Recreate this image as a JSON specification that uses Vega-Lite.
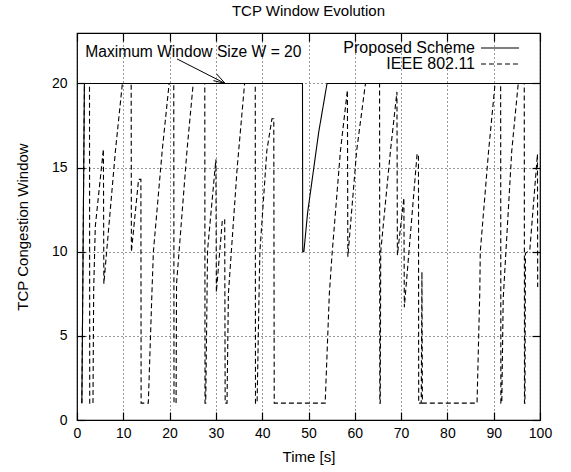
{
  "$schema": "https://vega.github.io/schema/vega-lite/v6.json",
  "width": 463,
  "height": 387,
  "autosize": {"type": "none"},
  "padding": {"left": 77, "top": 33, "right": 31, "bottom": 52},
  "background": "white",
  "title": {"text": "TCP Window Evolution", "font": "Liberation Sans", "fontSize": 15, "fontWeight": "normal", "color": "black", "offset": 13},
  "config": {
    "font": "Liberation Sans",
    "view": {"stroke": "black", "strokeWidth": 1.2},
    "axis": {
      "domain": false,
      "tickColor": "black",
      "tickSize": -8,
      "tickWidth": 1.2,
      "labelFlush": false,
      "labelFont": "Liberation Sans",
      "labelFontSize": 14,
      "labelColor": "black",
      "titleFont": "Liberation Sans",
      "titleFontSize": 15,
      "titleFontWeight": "normal",
      "titleColor": "black",
      "gridColor": "black",
      "gridDash": [1, 3],
      "gridWidth": 1,
      "gridOpacity": 0.8
    }
  },
  "datasets": {
    "series": [
      {"i": 1, "series": "Proposed Scheme", "t": 1.05, "v": 1},
      {"i": 2, "series": "Proposed Scheme", "t": 1.6, "v": 20},
      {"i": 3, "series": "Proposed Scheme", "t": 48.7, "v": 20},
      {"i": 4, "series": "Proposed Scheme", "t": 48.75, "v": 10},
      {"i": 5, "series": "Proposed Scheme", "t": 49.0, "v": 10},
      {"i": 6, "series": "Proposed Scheme", "t": 49.8, "v": 12.3},
      {"i": 7, "series": "Proposed Scheme", "t": 51.1, "v": 14.9},
      {"i": 8, "series": "Proposed Scheme", "t": 52.2, "v": 17.1},
      {"i": 9, "series": "Proposed Scheme", "t": 54.0, "v": 20},
      {"i": 10, "series": "Proposed Scheme", "t": 100, "v": 20},
      {"i": 101, "series": "IEEE 802.11", "t": 1.05, "v": 1},
      {"i": 102, "series": "IEEE 802.11", "t": 1.6, "v": 20},
      {"i": 103, "series": "IEEE 802.11", "t": 2.7, "v": 20},
      {"i": 104, "series": "IEEE 802.11", "t": 2.75, "v": 1},
      {"i": 105, "series": "IEEE 802.11", "t": 3.45, "v": 1},
      {"i": 106, "series": "IEEE 802.11", "t": 3.6, "v": 7.7},
      {"i": 107, "series": "IEEE 802.11", "t": 3.95, "v": 11.5},
      {"i": 108, "series": "IEEE 802.11", "t": 5.7, "v": 16.1},
      {"i": 109, "series": "IEEE 802.11", "t": 5.8, "v": 8.1},
      {"i": 110, "series": "IEEE 802.11", "t": 8.3, "v": 16},
      {"i": 111, "series": "IEEE 802.11", "t": 9.8, "v": 20},
      {"i": 112, "series": "IEEE 802.11", "t": 11.7, "v": 20},
      {"i": 113, "series": "IEEE 802.11", "t": 11.75, "v": 10},
      {"i": 114, "series": "IEEE 802.11", "t": 13.3, "v": 14.3},
      {"i": 115, "series": "IEEE 802.11", "t": 13.8, "v": 14.3},
      {"i": 116, "series": "IEEE 802.11", "t": 13.85, "v": 1},
      {"i": 117, "series": "IEEE 802.11", "t": 15.4, "v": 1},
      {"i": 118, "series": "IEEE 802.11", "t": 16.2, "v": 7.7},
      {"i": 119, "series": "IEEE 802.11", "t": 16.5, "v": 10},
      {"i": 120, "series": "IEEE 802.11", "t": 18.4, "v": 16},
      {"i": 121, "series": "IEEE 802.11", "t": 19.9, "v": 20},
      {"i": 122, "series": "IEEE 802.11", "t": 20.9, "v": 20},
      {"i": 123, "series": "IEEE 802.11", "t": 20.95, "v": 1},
      {"i": 124, "series": "IEEE 802.11", "t": 21.4, "v": 1},
      {"i": 125, "series": "IEEE 802.11", "t": 21.5, "v": 8.1},
      {"i": 126, "series": "IEEE 802.11", "t": 23.75, "v": 16},
      {"i": 127, "series": "IEEE 802.11", "t": 25.1, "v": 20},
      {"i": 128, "series": "IEEE 802.11", "t": 27.6, "v": 20},
      {"i": 129, "series": "IEEE 802.11", "t": 27.65, "v": 1},
      {"i": 130, "series": "IEEE 802.11", "t": 27.8, "v": 1},
      {"i": 131, "series": "IEEE 802.11", "t": 28.2, "v": 10.1},
      {"i": 132, "series": "IEEE 802.11", "t": 30.0, "v": 15.5},
      {"i": 133, "series": "IEEE 802.11", "t": 30.1, "v": 7.6},
      {"i": 134, "series": "IEEE 802.11", "t": 31.4, "v": 11.9},
      {"i": 135, "series": "IEEE 802.11", "t": 31.9, "v": 11.9},
      {"i": 136, "series": "IEEE 802.11", "t": 32.0, "v": 1},
      {"i": 137, "series": "IEEE 802.11", "t": 32.4, "v": 1},
      {"i": 138, "series": "IEEE 802.11", "t": 32.7, "v": 7.5},
      {"i": 139, "series": "IEEE 802.11", "t": 34.6, "v": 15},
      {"i": 140, "series": "IEEE 802.11", "t": 36.2, "v": 20},
      {"i": 141, "series": "IEEE 802.11", "t": 38.5, "v": 20},
      {"i": 142, "series": "IEEE 802.11", "t": 38.55, "v": 1},
      {"i": 143, "series": "IEEE 802.11", "t": 38.9, "v": 1},
      {"i": 144, "series": "IEEE 802.11", "t": 39.35, "v": 8},
      {"i": 145, "series": "IEEE 802.11", "t": 39.5, "v": 10},
      {"i": 146, "series": "IEEE 802.11", "t": 41.0, "v": 16},
      {"i": 147, "series": "IEEE 802.11", "t": 42.1, "v": 17.9},
      {"i": 148, "series": "IEEE 802.11", "t": 42.5, "v": 17.9},
      {"i": 149, "series": "IEEE 802.11", "t": 42.6, "v": 1},
      {"i": 150, "series": "IEEE 802.11", "t": 53.6, "v": 1},
      {"i": 151, "series": "IEEE 802.11", "t": 54.5, "v": 7.5},
      {"i": 152, "series": "IEEE 802.11", "t": 55.1, "v": 9.9},
      {"i": 153, "series": "IEEE 802.11", "t": 56.9, "v": 16},
      {"i": 154, "series": "IEEE 802.11", "t": 58.4, "v": 19.6},
      {"i": 155, "series": "IEEE 802.11", "t": 58.5, "v": 9.7},
      {"i": 156, "series": "IEEE 802.11", "t": 60.4, "v": 16},
      {"i": 157, "series": "IEEE 802.11", "t": 62.3, "v": 20},
      {"i": 158, "series": "IEEE 802.11", "t": 65.35, "v": 20},
      {"i": 159, "series": "IEEE 802.11", "t": 65.4, "v": 1},
      {"i": 160, "series": "IEEE 802.11", "t": 65.5, "v": 1},
      {"i": 161, "series": "IEEE 802.11", "t": 65.6, "v": 10},
      {"i": 162, "series": "IEEE 802.11", "t": 67.7, "v": 16},
      {"i": 163, "series": "IEEE 802.11", "t": 69.1, "v": 19.5},
      {"i": 164, "series": "IEEE 802.11", "t": 69.2, "v": 9.8},
      {"i": 165, "series": "IEEE 802.11", "t": 70.6, "v": 13.2},
      {"i": 166, "series": "IEEE 802.11", "t": 70.7, "v": 6.7},
      {"i": 167, "series": "IEEE 802.11", "t": 73.45, "v": 15.8},
      {"i": 168, "series": "IEEE 802.11", "t": 73.75, "v": 15.8},
      {"i": 169, "series": "IEEE 802.11", "t": 73.8, "v": 1},
      {"i": 170, "series": "IEEE 802.11", "t": 74.35, "v": 1},
      {"i": 171, "series": "IEEE 802.11", "t": 74.5, "v": 8.8},
      {"i": 172, "series": "IEEE 802.11", "t": 74.6, "v": 1},
      {"i": 173, "series": "IEEE 802.11", "t": 86.4, "v": 1},
      {"i": 174, "series": "IEEE 802.11", "t": 87.0, "v": 7.7},
      {"i": 175, "series": "IEEE 802.11", "t": 87.1, "v": 10},
      {"i": 176, "series": "IEEE 802.11", "t": 88.9, "v": 16},
      {"i": 177, "series": "IEEE 802.11", "t": 90.3, "v": 20},
      {"i": 178, "series": "IEEE 802.11", "t": 91.5, "v": 20},
      {"i": 179, "series": "IEEE 802.11", "t": 91.55, "v": 1},
      {"i": 180, "series": "IEEE 802.11", "t": 91.75, "v": 1},
      {"i": 181, "series": "IEEE 802.11", "t": 92.05, "v": 7.2},
      {"i": 182, "series": "IEEE 802.11", "t": 93.9, "v": 16},
      {"i": 183, "series": "IEEE 802.11", "t": 95.3, "v": 20},
      {"i": 184, "series": "IEEE 802.11", "t": 96.6, "v": 20},
      {"i": 185, "series": "IEEE 802.11", "t": 96.65, "v": 1},
      {"i": 186, "series": "IEEE 802.11", "t": 96.75, "v": 1},
      {"i": 187, "series": "IEEE 802.11", "t": 96.85, "v": 9.9},
      {"i": 188, "series": "IEEE 802.11", "t": 97.8, "v": 10.1},
      {"i": 189, "series": "IEEE 802.11", "t": 99.45, "v": 15.8},
      {"i": 190, "series": "IEEE 802.11", "t": 99.5, "v": 7.9}
    ],
    "note": [
      {"t": 1.78, "v": 21.55, "label": "Maximum Window Size W = 20"}
    ],
    "arrow": [
      {"part": "shaft", "t": 21.6, "v": 21.46, "t2": 32.0, "v2": 20.0},
      {"part": "head1", "t": 30.17, "v": 20.56, "t2": 32.0, "v2": 20.0},
      {"part": "head2", "t": 29.46, "v": 20.17, "t2": 32.0, "v2": 20.0}
    ]
  },
  "resolve": {"axis": {"x": "independent", "y": "independent"}},
  "layer": [
    {
      "data": {"name": "series"},
      "mark": {"type": "line", "color": "black", "strokeWidth": 1.1, "clip": true},
      "encoding": {
        "x": {
          "field": "t", "type": "quantitative",
          "scale": {"domain": [0, 100], "nice": false, "zero": false},
          "axis": {"orient": "bottom", "title": "Time [s]", "values": [0, 10, 20, 30, 40, 50, 60, 70, 80, 90, 100], "grid": true, "labelPadding": 14, "titlePadding": 9}
        },
        "y": {
          "field": "v", "type": "quantitative",
          "scale": {"domain": [0, 23], "nice": false, "zero": false},
          "axis": {"orient": "left", "title": "TCP Congestion Window", "values": [0, 5, 10, 15, 20], "grid": true, "labelPadding": 18, "titlePadding": 21}
        },
        "strokeDash": {
          "field": "series", "type": "nominal",
          "scale": {"domain": ["Proposed Scheme", "IEEE 802.11"], "range": [[1, 0], [5, 3]]},
          "legend": {
            "title": null,
            "orient": "none",
            "legendX": 415,
            "legendY": 7,
            "padding": 0,
            "symbolType": "M-5,0H5",
            "symbolSize": 58,
            "symbolStrokeWidth": 1.1,
            "symbolStrokeColor": "black",
            "labelFont": "Liberation Sans",
            "labelFontSize": 16,
            "labelColor": "black",
            "labelAlign": "right",
            "labelOffset": -33,
            "rowPadding": -2
          }
        },
        "order": {"field": "i", "type": "quantitative"}
      }
    },
    {
      "data": {"name": "arrow"},
      "mark": {"type": "rule", "color": "black", "strokeWidth": 1},
      "encoding": {
        "x": {"field": "t", "type": "quantitative", "scale": {"domain": [0, 100], "nice": false, "zero": false},
              "axis": {"orient": "top", "labels": false, "title": null, "grid": false, "values": [0, 10, 20, 30, 40, 50, 60, 70, 80, 90, 100]}},
        "y": {"field": "v", "type": "quantitative", "scale": {"domain": [0, 23], "nice": false, "zero": false},
              "axis": {"orient": "right", "labels": false, "title": null, "grid": false, "values": [0, 5, 10, 15, 20]}},
        "x2": {"field": "t2"},
        "y2": {"field": "v2"}
      }
    },
    {
      "data": {"name": "note"},
      "mark": {"type": "text", "font": "Liberation Sans", "fontSize": 15.6, "color": "black", "align": "left", "baseline": "alphabetic"},
      "encoding": {
        "x": {"field": "t", "type": "quantitative", "axis": null},
        "y": {"field": "v", "type": "quantitative", "axis": null},
        "text": {"field": "label"}
      }
    }
  ]
}
